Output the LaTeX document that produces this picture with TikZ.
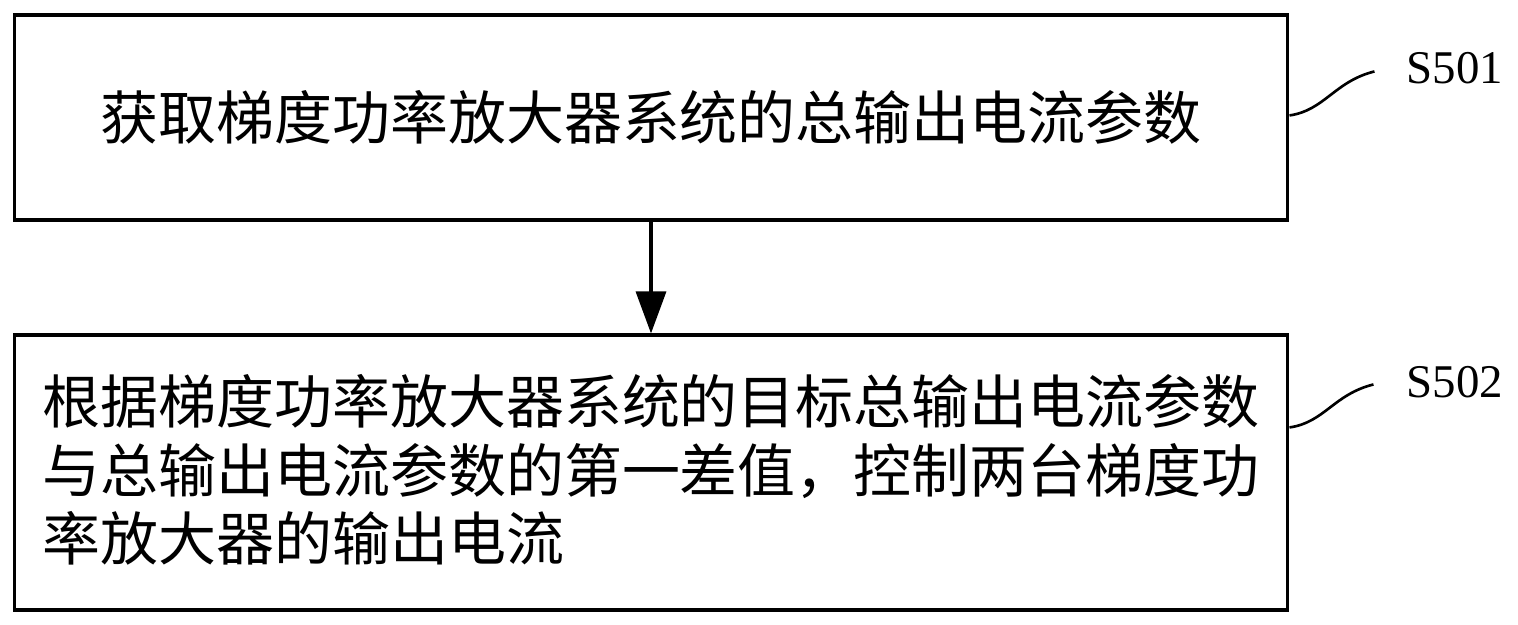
\documentclass[tikz,border=0pt]{standalone}
\usepackage{fontspec}
\setmainfont{Liberation Serif}
\newfontfamily\cjk{Noto Sans CJK SC}
\usepackage{tikz}
\usetikzlibrary{positioning, calc, arrows.meta}
\newcommand{\linecolor}{black}

\begin{document}
\begin{tikzpicture}[x=0.02cm, y=-0.02cm]
	\tikzstyle{stepbox}=[rectangle, draw=\linecolor, line width=1.8pt, minimum width=25.48cm, inner sep=0pt, font=\cjk\fontsize{33}{38.8}\selectfont]
	\tikzstyle{steplabel}=[anchor=west, inner sep=0pt, font=\fontsize{26.7}{30}\selectfont]
	\tikzstyle{squiggle}=[draw=\linecolor, line width=1.5pt]
	\useasboundingbox (0,0) rectangle (1518,625);
	\node (s1) at (651,117.5) [stepbox, minimum height=4.1cm]{获取梯度功率放大器系统的总输出电流参数};
	\node (s2) at (651,472.5) [stepbox, minimum height=5.5cm, align=left]{\raisebox{0.12cm}{}根据梯度功率放大器系统的目标总输出电流参数\\与总输出电流参数的第一差值，控制两台梯度功\\率放大器的输出电流\raisebox{-0.2cm}{}};
	\draw[line width=1.9pt, -{Triangle[length=0.84cm, width=0.6cm]}] (s1) -- (s2);
	
	\coordinate (c1) at ($(s1.north east)+(0,102)$);
	\coordinate (e1) at ($(c1)+(85,-44)$);
	\node (l1) at ($(e1)+(32,-3)$) [steplabel]{S501};
	\draw[squiggle] (c1) .. controls ($(c1)+(35,-5)$) and ($(e1)+(-40,10)$) .. (e1);
	
	\coordinate (c2) at ($(s2.north east)+(0,94)$);
	\coordinate (e2) at ($(c2)+(84,-43)$);
	\node (l2) at ($(e2)+(33,-2)$) [steplabel]{S502};
	\draw[squiggle] (c2) .. controls ($(c2)+(35,-5)$) and ($(e2)+(-40,10)$) .. (e2);
\end{tikzpicture}
\end{document}
